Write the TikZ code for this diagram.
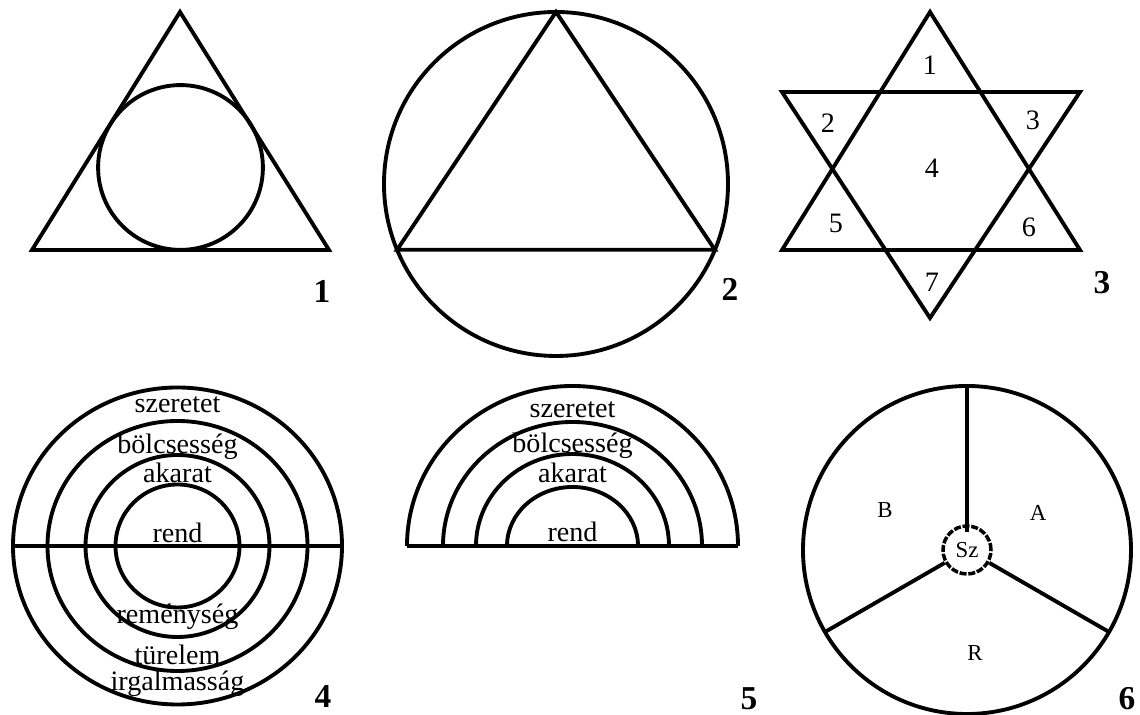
\documentclass[tikz,border=0pt]{standalone}
\usepackage{fontspec}
\setmainfont{Liberation Serif}
\usetikzlibrary{positioning}
\begin{document}
\begin{tikzpicture}[
	x=0.02cm, y=0.02cm,
	figline/.style={draw=black, line width=2.2pt, line join=miter},
	word/.style={font=\fontsize{16}{18}\selectfont, inner sep=0pt},
	num/.style={font=\fontsize{16}{18}\selectfont, inner sep=0pt},
	part/.style={font=\fontsize{13}{15}\selectfont, inner sep=0pt},
	tag/.style={font=\fontsize{19}{22}\selectfont\bfseries, inner sep=0pt}
]
\useasboundingbox (0,0) rectangle (1140,715);

% 1: haromszog beirt korrel
\coordinate (t1a) at (180,703);
\coordinate (t1b) at (32,465);
\coordinate (t1c) at (329,465);
\draw[figline] (t1a) -- (t1b) -- (t1c) -- cycle;
\draw[figline] (180.5,547.5) circle (82.4);
\node[tag] (tag1) at (322,424) {1};

% 2: kor beirt haromszoggel
\coordinate (c2) at (556,531);
\draw[figline] (c2) circle (172);
\path (c2) +(90:172) coordinate (t2a) +(202.5:172) coordinate (t2b) +(-22.5:172) coordinate (t2c);
\draw[figline] (t2a) -- (t2b) -- (t2c) -- cycle;
\node[tag] (tag2) at (730,426) {2};

% 3: hatagu csillag
\draw[figline] (930,703) -- (782,465) -- (1080,465) -- cycle;
\draw[figline] (782,623) -- (1080,623) -- (930,397) -- cycle;
\node[num] (n1) at (930,650) {1};
\node[num] (n2) at (828,592) {2};
\node[num] (n3) at (1033,595) {3};
\node[num] (n4) at (932,547) {4};
\node[num] (n5) at (836,492) {5};
\node[num] (n6) at (1029,488) {6};
\node[num] (n7) at (932,433) {7};
\node[tag] (tag3) at (1102,432) {3};

% 4: koncentrikus korok
\coordinate (c4) at (177.5,169);
\foreach \rx/\ry in {164.5/158.5, 130/125, 92/91, 62/61.5}
	\draw[figline] (c4) ellipse [x radius=\rx, y radius=\ry];
\draw[figline] (13,169) -- (342,169);
\node[word] (w4a) at (177.5,310) {szeretet};
\node[word] (w4b) at (177.5,268) {bölcsesség};
\node[word] (w4c) at (177.5,242) {akarat};
\node[word] (w4d) at (177.5,182) {rend};
\node[word] (w4e) at (177.5,98) {reménység};
\node[word] (w4f) at (177.5,60) {türelem};
\node[word] (w4g) at (177.5,31) {irgalmasság};
\node[tag] (tag4) at (323,18) {4};

% 5: felkorivek
\foreach \rx/\ry in {165.5/160, 129.5/124, 96.5/92, 65.5/59}
	\draw[figline] (572.5-\rx,169) arc [start angle=180, end angle=0, x radius=\rx, y radius=\ry];
\draw[figline] (407,169) -- (738,169);
\node[word] (w5a) at (572.5,305) {szeretet};
\node[word] (w5b) at (572.5,269) {bölcsesség};
\node[word] (w5c) at (572.5,242) {akarat};
\node[word] (w5d) at (572.5,183) {rend};
\node[tag] (tag5) at (749,16) {5};

% 6: harom reszre osztott kor
\coordinate (c6) at (967,165);
\draw[figline] (c6) circle (164);
\node[draw, circle, line width=2pt, dash pattern=on 4pt off 1pt, minimum size=0.96cm, inner sep=0pt, part] (sz) at (c6) {Sz};
\path (c6) +(90:164) coordinate (s6a) +(210:164) coordinate (s6b) +(330:164) coordinate (s6c);
\draw[figline, shorten <=-0.15cm] (sz.90) -- (s6a);
\draw[figline] (sz.210) -- (s6b);
\draw[figline] (sz.330) -- (s6c);
\node[part] (pb) at (885,205) {B};
\node[part] (pa) at (1038,202) {A};
\node[part] (pr) at (975,62) {R};
\node[tag] (tag6) at (1127,16) {6};

\end{tikzpicture}
\end{document}
